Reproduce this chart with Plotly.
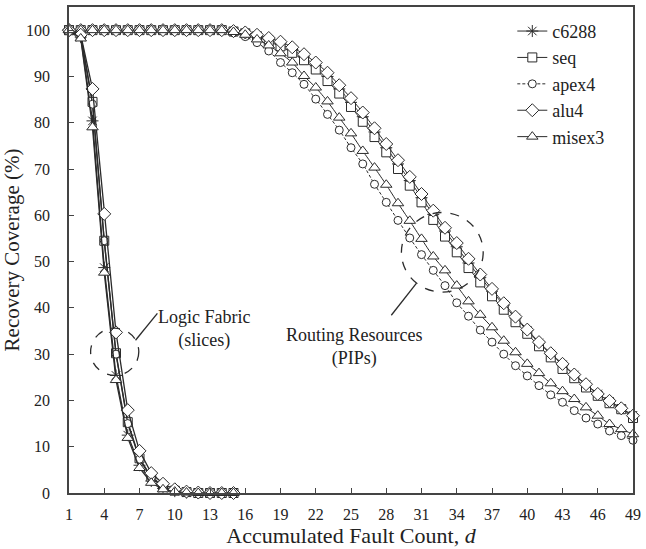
import plotly.graph_objects as go

# ---------------- data ----------------
d_logic = [1, 2, 3, 4, 5, 6, 7, 8, 9, 10, 11, 12, 13, 14, 15]
d_route = list(range(1, 50))

c6288_logic = [100, 98.5, 80.4, 48.7, 25.4, 12.5, 6.0, 2.6, 1.0, 0.4, 0.1, 0, 0, 0, 0]
seq_logic = [100, 98.8, 84.5, 54.5, 30.2, 15.3, 7.5, 3.5, 1.4, 0.5, 0.2, 0, 0, 0, 0]
apex4_logic = [100, 98.8, 84.0, 54.5, 30.0, 15.0, 7.3, 3.3, 1.3, 0.5, 0.2, 0, 0, 0, 0]
alu4_logic = [100, 99.0, 87.3, 60.3, 34.7, 17.9, 9.1, 4.3, 2.0, 0.8, 0.3, 0.1, 0, 0, 0]
misex3_logic = [100, 98.2, 79.0, 47.6, 24.4, 11.9, 5.4, 2.2, 0.8, 0.3, 0.1, 0, 0, 0, 0]

c6288_route = [100, 100, 100, 100, 100, 100, 100, 100, 100, 100, 100, 100, 100, 100,
               99.8, 99.4, 98.8, 98.0, 97.0, 95.8, 94.2, 92.3, 90.0, 87.3, 84.4, 81.3,
               78.0, 74.6, 71.1, 67.5, 63.8, 60.2, 56.6, 53.2, 49.7, 46.6, 43.6, 40.6,
               37.8, 35.1, 32.4, 30.0, 27.7, 25.5, 23.4, 21.4, 19.8, 18.3, 16.8]
seq_route = [100, 100, 100, 100, 100, 100, 100, 100, 100, 100, 100, 100, 100, 100,
             99.7, 99.3, 98.6, 97.6, 96.5, 95.1, 93.5, 91.5, 89.0, 86.3, 83.4, 80.2,
             76.9, 73.6, 70.0, 66.4, 62.8, 59.0, 55.4, 52.0, 48.6, 45.5, 42.5, 39.6,
             36.9, 34.4, 31.7, 29.3, 26.8, 24.8, 22.8, 21.0, 19.4, 18.1, 16.2]
apex4_route = [100, 100, 100, 100, 100, 100, 100, 100, 100, 100, 100, 100, 100, 100,
               99.4, 98.6, 97.3, 95.5, 93.0, 90.8, 88.3, 85.1, 81.8, 78.4, 74.6, 71.1,
               66.7, 62.8, 58.9, 55.1, 51.5, 48.1, 44.8, 41.1, 38.2, 35.2, 32.6, 30.0,
               27.5, 25.3, 23.2, 21.2, 19.6, 17.8, 16.2, 14.9, 13.4, 12.4, 11.4]
alu4_route = [100, 100, 100, 100, 100, 100, 100, 100, 100, 100, 100, 100, 100, 100,
              99.8, 99.5, 99.0, 98.3, 97.5, 96.3, 94.8, 93.0, 90.8, 88.1, 85.3, 82.2,
              78.8, 75.4, 71.9, 68.3, 64.6, 61.0, 57.3, 54.0, 50.6, 47.2, 44.1, 41.0,
              38.1, 35.3, 32.6, 30.2, 27.9, 25.6, 23.5, 21.4, 19.9, 18.3, 16.7]
misex3_route = [100, 100, 100, 100, 100, 100, 100, 100, 100, 100, 100, 100, 100, 100,
                99.6, 99.0, 98.0, 96.7, 95.0, 93.0, 90.1, 87.6, 84.6, 81.1, 77.7, 73.9,
                70.3, 66.6, 62.6, 58.8, 54.9, 51.1, 48.1, 44.8, 41.4, 38.5, 35.8, 32.9,
                30.4, 27.9, 25.9, 23.7, 22.0, 20.3, 18.5, 16.7, 14.9, 13.8, 12.7]

x_ticks = [1, 4, 7, 10, 13, 16, 19, 22, 25, 28, 31, 34, 37, 40, 43, 46, 49]
y_ticks = [0, 10, 20, 30, 40, 50, 60, 70, 80, 90, 100]

names = ["c6288", "seq", "apex4", "alu4", "misex3"]
logic_series = [c6288_logic, seq_logic, apex4_logic, alu4_logic, misex3_logic]
route_series = [c6288_route, seq_route, apex4_route, alu4_route, misex3_route]

# ---------------- styles ----------------
FONT = "Liberation Serif, Times New Roman, serif"
INK = "#2b2b2b"
styles = {
    "c6288": dict(symbol="asterisk-open", size=10, dash="solid", fill=INK),
    "seq": dict(symbol="square", size=9, dash="solid", fill="white"),
    "apex4": dict(symbol="circle", size=8, dash="3px,2px", fill="white"),
    "alu4": dict(symbol="diamond", size=10, dash="solid", fill="white"),
    "misex3": dict(symbol="triangle-up", size=10, dash="solid", fill="white"),
}

fig = go.Figure()

for name, ys in zip(names, route_series):
    st = styles[name]
    fig.add_trace(go.Scatter(
        x=d_route, y=ys, name=name, legendgroup=name, mode="lines+markers",
        line=dict(color=INK, width=1, dash=st["dash"], shape="spline", smoothing=0.6),
        marker=dict(symbol=st["symbol"], size=st["size"], color=st["fill"],
                    line=dict(color=INK, width=1)),
        cliponaxis=False,
    ))

for name, ys in zip(names, logic_series):
    st = styles[name]
    fig.add_trace(go.Scatter(
        x=d_logic, y=ys, name=name, legendgroup=name, showlegend=False,
        mode="lines+markers",
        line=dict(color=INK, width=1.3, dash="solid"),
        marker=dict(symbol=st["symbol"], size=st["size"], color=st["fill"],
                    line=dict(color=INK, width=1)),
        cliponaxis=False,
    ))

# annotation circles and leader lines
fig.add_shape(type="circle", xref="x", yref="y", x0=2.84, x1=6.94, y0=25.4, y1=35.6,
              line=dict(color=INK, width=1.3, dash="dash"))
fig.add_shape(type="circle", xref="x", yref="y", x0=29.29, x1=36.25, y0=43.4, y1=60.6,
              line=dict(color=INK, width=1.3, dash="dash"))
fig.add_shape(type="line", xref="x", yref="y", x0=6.66, y0=33.0, x1=8.52, y1=38.8,
              line=dict(color=INK, width=1.3))
fig.add_shape(type="line", xref="x", yref="y", x0=30.56, y0=45.3, x1=28.43, y1=38.4,
              line=dict(color=INK, width=1.3))

fig.add_annotation(x=12.5, y=35.5, xref="x", yref="y", text="Logic Fabric<br>(slices)",
                   showarrow=False, font=dict(family=FONT, size=18, color="#222"),
                   align="center")
fig.add_annotation(x=25.3, y=31.5, xref="x", yref="y", text="Routing Resources<br>(PIPs)",
                   showarrow=False, font=dict(family=FONT, size=18, color="#222"),
                   align="center")

fig.update_layout(
    width=646, height=549,
    margin=dict(l=69, r=8, t=5, b=56),
    paper_bgcolor="white", plot_bgcolor="white",
    font=dict(family=FONT, size=16, color="#222"),
    showlegend=True,
    legend=dict(x=0.786, y=0.988, xanchor="left", yanchor="top",
                bgcolor="rgba(0,0,0,0)", font=dict(family=FONT, size=18, color="#222"),
                tracegroupgap=0, itemwidth=30),
)

fig.update_xaxes(
    range=[1, 49], tickmode="array", tickvals=x_ticks, ticktext=[str(v) for v in x_ticks],
    ticks="inside", ticklen=5, tickcolor="#444", tickwidth=1,
    showline=True, linecolor="#444", linewidth=1.5, mirror=True,
    showgrid=False, zeroline=False, ticklabelstandoff=6,
    title=dict(text="Accumulated Fault Count, <i>d</i>", font=dict(family=FONT, size=22),
               standoff=6),
)
fig.update_yaxes(
    range=[0, 105], tickmode="array", tickvals=y_ticks, ticktext=[str(v) for v in y_ticks],
    ticks="inside", ticklen=5, tickcolor="#444", tickwidth=1,
    showline=True, linecolor="#444", linewidth=1.5, mirror=True,
    showgrid=False, zeroline=False, ticklabelstandoff=14,
    title=dict(text="Recovery Coverage (%)", font=dict(family=FONT, size=21), standoff=6),
)

fig.write_html("out.html")
